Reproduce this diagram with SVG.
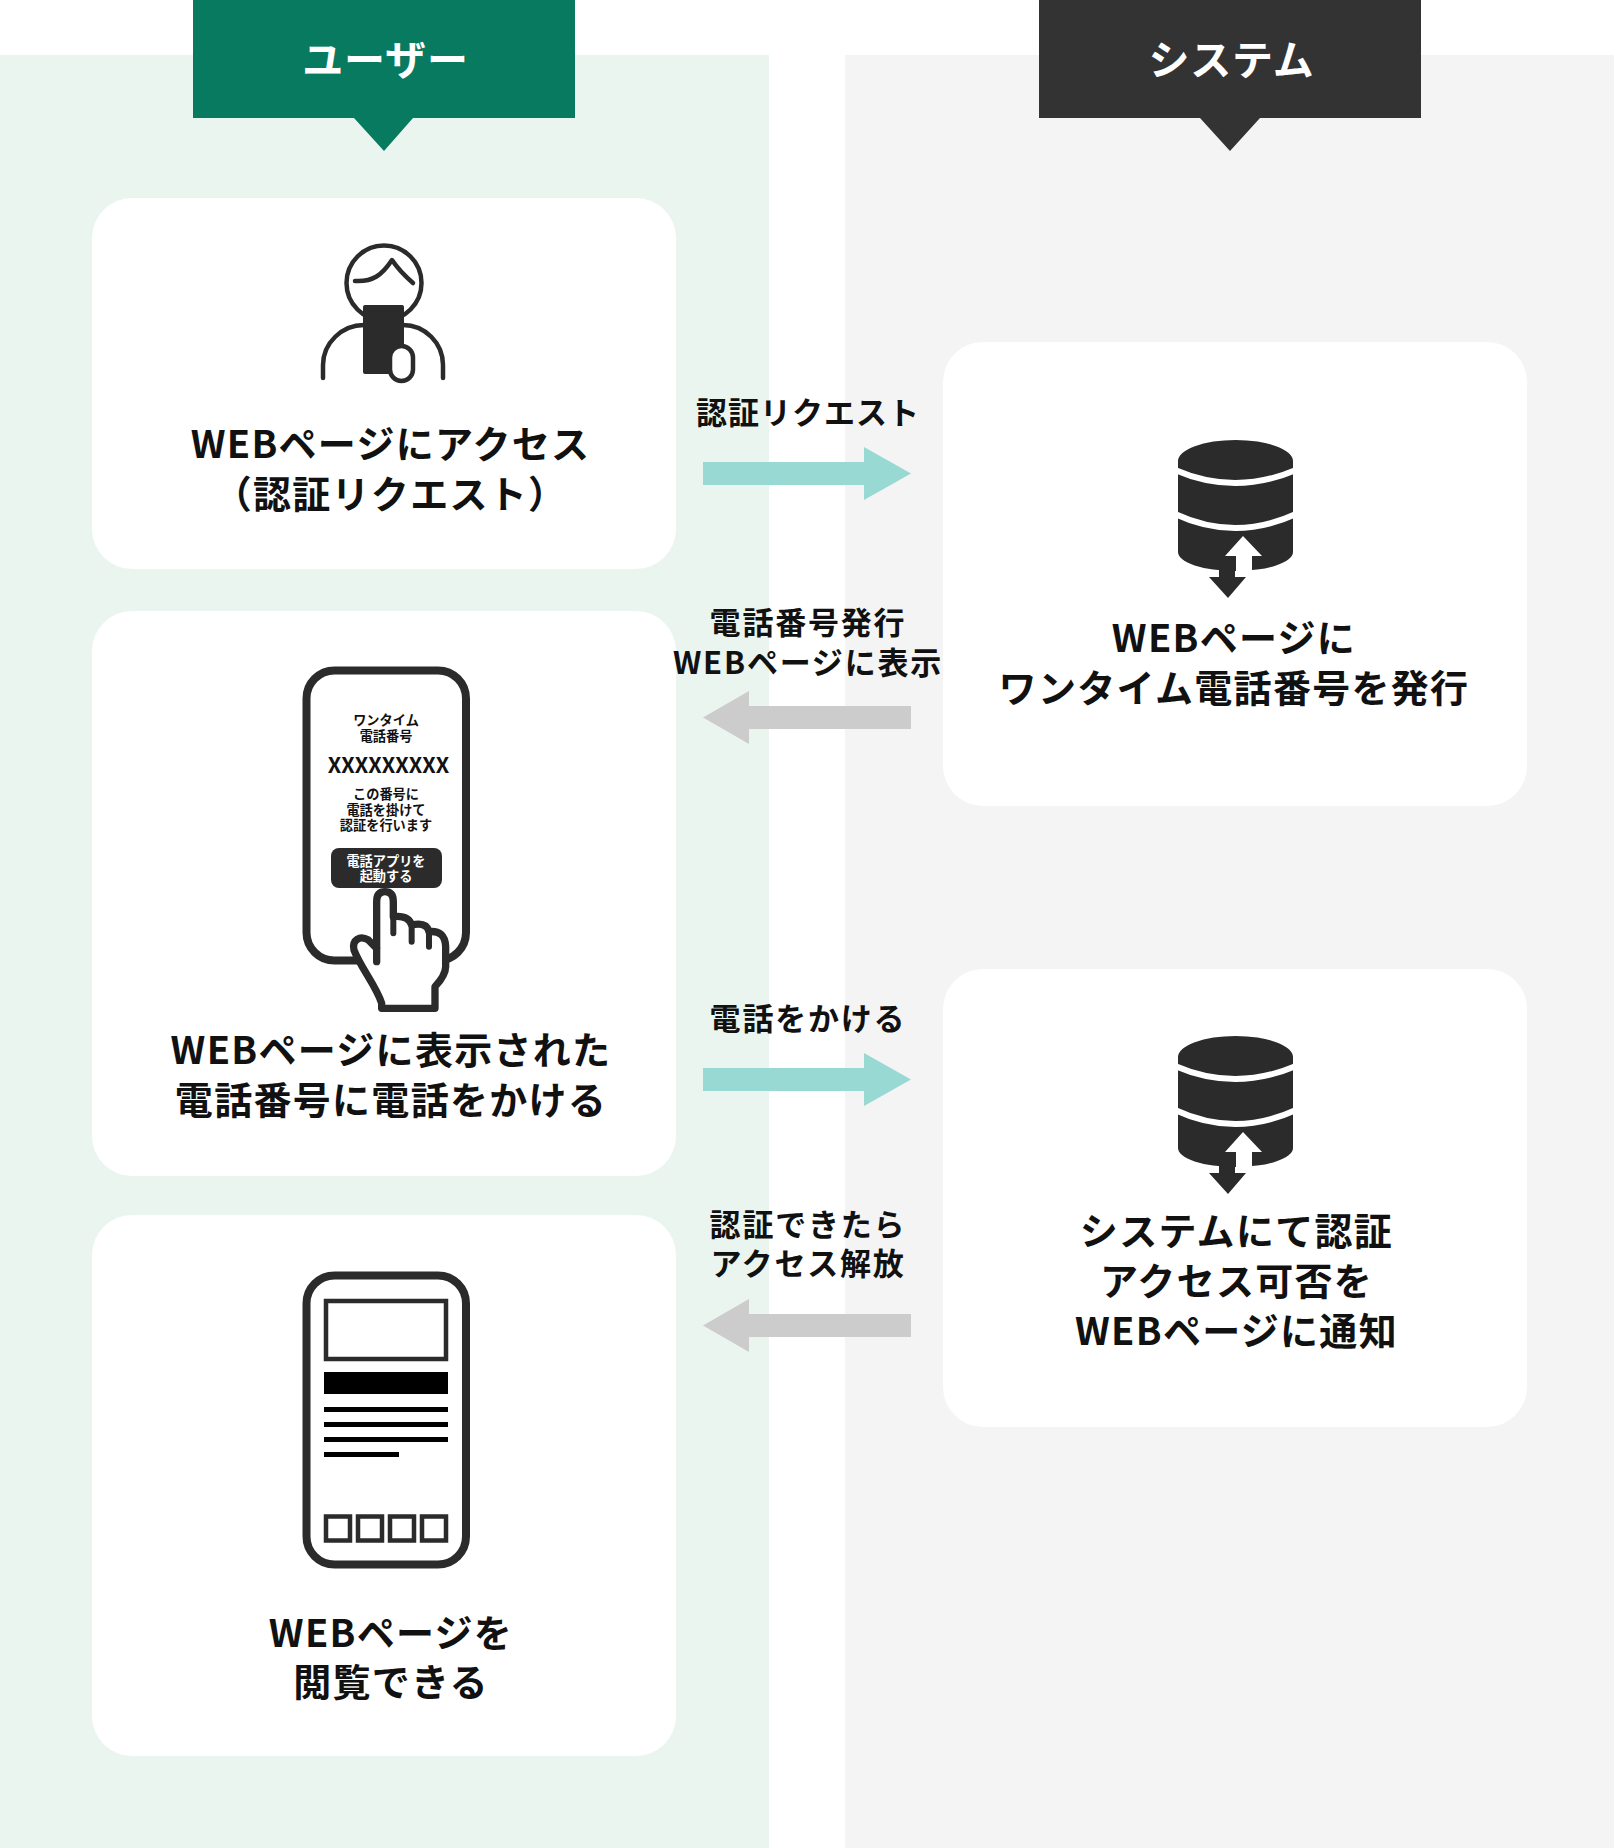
<svg xmlns="http://www.w3.org/2000/svg" width="1614" height="1848" viewBox="0 0 1614 1848">
<style>
text{font-family:"Noto Sans CJK JP","Noto Sans",sans-serif;font-weight:700;text-anchor:middle;fill:#111}
.t{font-size:38px;letter-spacing:1.3px}
.l{font-size:31px;letter-spacing:1.8px}
.h{font-size:41px;letter-spacing:.8px;fill:#fff}
.s{font-size:13.2px}
.x{font-size:21.5px}
.w{fill:#fff}
.d{fill:#2b2b2b}
.card{fill:#fff}
.o{fill:#fff;stroke:#2b2b2b;stroke-width:8}
.m{fill:#fff;stroke:#2b2b2b;stroke-width:4.5}
.n{fill:none;stroke:#2b2b2b;stroke-width:4.5;stroke-linecap:round;stroke-linejoin:round}
.up{fill:#99d9d4}
.dn{fill:#cccccc}
</style>
<defs>
<g id="db">
<path class="d" d="M1178 461A57.5 21 0 0 1 1293 461V552A57.5 19 0 0 1 1235 571A57.5 19 0 0 1 1178 552Z"/>
<path d="M1175 470Q1235 496 1296 470M1175 514Q1235 542 1296 514" fill="none" stroke="#fff" stroke-width="6"/>
<path class="w" d="M1243 536L1262 556H1252V580H1236V556H1225Z"/>
<rect class="w" x="1252" y="571" width="50" height="30"/>
<rect class="w" x="1170" y="571" width="49" height="30"/>
<path class="d" d="M1219 566H1235V577H1246L1228 598L1209 577H1219Z"/>
</g>
</defs>
<rect x="0" y="55" width="769" height="1793" fill="#ebf5f0"/>
<rect x="845" y="55" width="769" height="1793" fill="#f4f4f4"/>
<g id="header-user">
<path fill="#087a60" d="M193 0H575V118H413L384 151L354 118H193Z"/>
<text class="h" x="385.500" y="75">ユーザー</text>
</g>
<g id="header-system">
<path fill="#333333" d="M1039 0H1421V118H1260L1230 151L1200 118H1039Z"/>
<text class="h" x="1231.500" y="75">システム</text>
</g>
<g id="node-access">
<rect class="card" x="92" y="198" width="584" height="371" rx="40"/>
<circle class="n" cx="384" cy="283" r="37.500"/>
<path class="n" d="M355 281C373 282 382 275 392 260C398 269 405 276 413 283"/>
<path class="n" d="M323 378V365C323 343 342 325 364 325M403 325C425 325 443 343 443 365V378"/>
<rect class="d" x="363" y="305" width="41" height="69" rx="2"/>
<rect class="m" x="390" y="346" width="23" height="35" rx="11.5"/>
<text class="t" x="390.500" y="458">WEBページにアクセス</text>
<text class="t" x="390.500" y="508">（認証リクエスト）</text>
</g>
<g id="node-phone">
<rect class="card" x="92" y="611" width="584" height="565" rx="40"/>
<rect class="o" x="306.500" y="670.500" width="159.500" height="290" rx="28"/>
<text class="s" x="386" y="725">ワンタイム</text>
<text class="s" x="386" y="741">電話番号</text>
<text class="x" x="388.500" y="773">XXXXXXXXX</text>
<text class="s" x="386" y="799">この番号に</text>
<text class="s" x="386" y="815">電話を掛けて</text>
<text class="s" x="386" y="830">認証を行います</text>
<rect class="d" x="331" y="848" width="111" height="40" rx="8"/>
<text class="s w" x="386" y="866" style="fill:#fff">電話アプリを</text>
<text class="s w" x="386" y="881" style="fill:#fff">起動する</text>
<g transform="translate(280 650) scale(.3333)">
<path d="M290 935V755Q290 725 315 725Q340 725 340 755V800Q385 795 395 825Q440 815 447 845Q495 840 497 890V950Q497 975 465 1010V1075H305V1060C290 1010 240 950 222 900C215 870 240 855 265 870L290 895" fill="#fff" stroke="#2b2b2b" stroke-width="22" stroke-linejoin="round" stroke-linecap="round"/>
<path d="M340 800V850M395 825V875M447 845V890" fill="none" stroke="#2b2b2b" stroke-width="18" stroke-linecap="round"/>
</g>
<text class="t" x="391" y="1064">WEBページに表示された</text>
<text class="t" x="391" y="1114">電話番号に電話をかける</text>
</g>
<g id="node-view">
<rect class="card" x="92" y="1215" width="584" height="541" rx="40"/>
<rect class="o" x="306.500" y="1275.500" width="159.500" height="289" rx="28"/>
<rect class="m" x="326" y="1301" width="120" height="58"/>
<rect fill="#000" x="324" y="1372" width="124" height="22"/>
<rect fill="#000" x="324" y="1407" width="124" height="5"/>
<rect fill="#000" x="324" y="1422" width="124" height="5"/>
<rect fill="#000" x="324" y="1437" width="124" height="5"/>
<rect fill="#000" x="324" y="1452" width="75" height="5"/>
<rect class="m" x="326" y="1516.500" width="24" height="24"/>
<rect class="m" x="358" y="1516.500" width="24" height="24"/>
<rect class="m" x="390" y="1516.500" width="24" height="24"/>
<rect class="m" x="422" y="1516.500" width="24" height="24"/>
<text class="t" x="391" y="1646.500">WEBページを</text>
<text class="t" x="391" y="1696">閲覧できる</text>
</g>
<g id="node-issue">
<rect class="card" x="943" y="342" width="584" height="464" rx="40"/>
<use href="#db"/>
<text class="t" x="1234" y="652">WEBページに</text>
<text class="t" x="1234" y="702">ワンタイム電話番号を発行</text>
</g>
<g id="node-auth">
<rect class="card" x="943" y="969" width="584" height="458" rx="40"/>
<use href="#db" y="596"/>
<text class="t" x="1236.500" y="1245">システムにて認証</text>
<text class="t" x="1236.500" y="1295">アクセス可否を</text>
<text class="t" x="1236.500" y="1345">WEBページに通知</text>
</g>
<g id="connectors">
<polygon class="up" points="703,462 864,462 864,447 911,473.500 864,500 864,485 703,485"/>
<polygon class="dn" points="911,706 749,706 749,691 703,717.500 749,744 749,729 911,729"/>
<polygon class="up" points="703,1068 864,1068 864,1053 911,1079.500 864,1106 864,1091 703,1091"/>
<polygon class="dn" points="911,1314 749,1314 749,1299 703,1325.500 749,1352 749,1337 911,1337"/>
<text class="l" x="808" y="424" style="letter-spacing:1px">認証リクエスト</text>
<text class="l" x="808" y="634">電話番号発行</text>
<text class="l" x="808" y="674">WEBページに表示</text>
<text class="l" x="808" y="1030">電話をかける</text>
<text class="l" x="808" y="1236">認証できたら</text>
<text class="l" x="808" y="1275">アクセス解放</text>
</g>
</svg>
